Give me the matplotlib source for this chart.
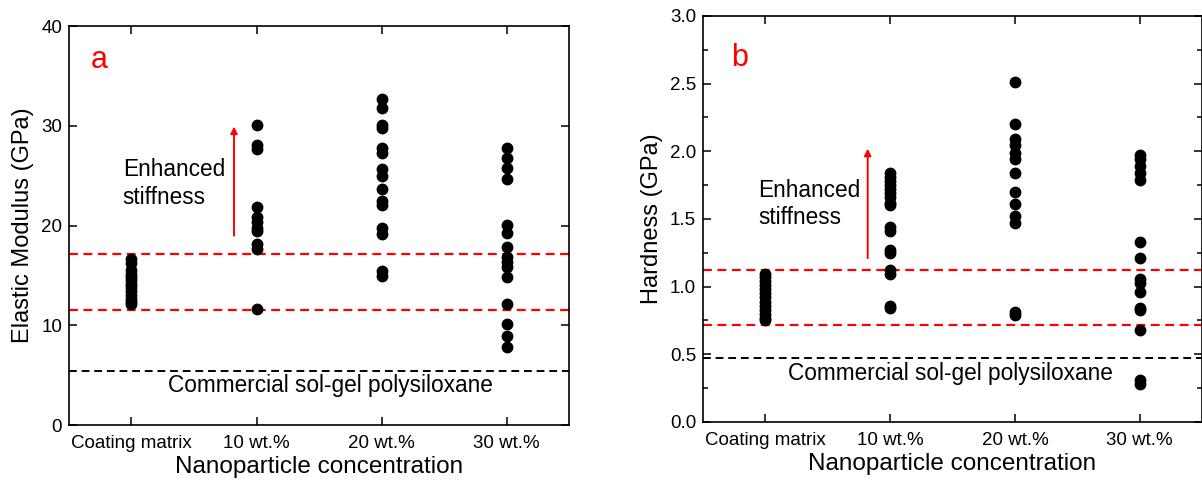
import matplotlib
matplotlib.use("Agg")
import matplotlib.pyplot as plt
from matplotlib.ticker import MultipleLocator, FormatStrFormatter

plt.rcParams['font.family'] = ['Liberation Sans', 'DejaVu Sans']

categories = ["Coating matrix", "10 wt.%", "20 wt.%", "30 wt.%"]

# Panel a: Elastic modulus (GPa)
modulus = [
    [16.6, 16.2, 15.5, 15.1, 14.8, 14.5, 14.1, 13.8, 13.4, 13.0, 12.6, 12.3, 12.1],
    [30.1, 28.1, 27.65, 21.9, 20.9, 20.4, 19.7, 19.4, 18.1, 17.6, 11.65],
    [32.7, 31.8, 30.1, 29.8, 27.8, 27.3, 25.7, 25.0, 23.7, 22.5, 22.1, 19.7, 19.1, 15.4, 14.95],
    [27.8, 26.8, 25.8, 24.7, 20.1, 19.2, 17.8, 16.8, 16.3, 15.8, 14.8, 12.1, 10.1, 8.9, 7.8],
]
modulus_bounds = [17.1, 11.55]
modulus_commercial = 5.4

# Panel b: Hardness (GPa)
hardness = [
    [1.09, 1.07, 1.04, 1.01, 0.98, 0.95, 0.92, 0.89, 0.86, 0.83, 0.80, 0.77, 0.75],
    [1.84, 1.81, 1.78, 1.75, 1.72, 1.69, 1.66, 1.62, 1.60, 1.44, 1.41, 1.27, 1.25, 1.12, 1.09, 0.86, 0.84],
    [2.51, 2.20, 2.09, 2.05, 1.99, 1.94, 1.84, 1.70, 1.61, 1.52, 1.47, 0.81, 0.79],
    [1.97, 1.94, 1.89, 1.84, 1.79, 1.33, 1.21, 1.06, 1.03, 0.96, 0.84, 0.83, 0.68, 0.31, 0.28],
]
hardness_bounds = [1.12, 0.72]
hardness_commercial = 0.476

fig = plt.figure(figsize=(12.02, 4.87), dpi=100)
ax_a = fig.add_axes([0.0574, 0.1273, 0.416, 0.8193])
ax_b = fig.add_axes([0.5849, 0.1335, 0.4151, 0.8337])

def style(ax, ylim, yticks, ylabel, minor=None, fmt=None):
    xs = range(1, len(categories) + 1)
    ax.set_xlim(0.5, 4.5)
    ax.set_ylim(*ylim)
    ax.set_xticks(list(xs))
    ax.set_xticklabels(categories)
    ax.set_yticks(yticks)
    if minor:
        ax.yaxis.set_minor_locator(MultipleLocator(minor))
    if fmt:
        ax.yaxis.set_major_formatter(FormatStrFormatter(fmt))
    ax.tick_params(axis='both', which='both', direction='in', top=True, right=True,
                   labelsize=13.5, width=1.1)
    ax.tick_params(axis='x', which='major', pad=7)
    ax.tick_params(axis='y', which='major', pad=5)
    ax.tick_params(axis='both', which='major', length=6)
    ax.tick_params(axis='y', which='minor', length=3.5)
    for s in ax.spines.values():
        s.set_linewidth(1.2)
    ax.set_xlabel("Nanoparticle concentration", fontsize=17.5, labelpad=3)
    ax.set_ylabel(ylabel, fontsize=17, labelpad=5)

def draw(ax, data, bounds, commercial):
    for i, vals in enumerate(data):
        ax.plot([i + 1] * len(vals), vals, 'o', color='black', ms=7.5, zorder=3)
    for b in bounds:
        ax.axhline(b, color='red', ls=(0, (4, 2.5)), lw=1.6, zorder=2)
    ax.axhline(commercial, color='black', ls=(0, (4, 2.5)), lw=1.4, zorder=2)

# Panel a
draw(ax_a, modulus, modulus_bounds, modulus_commercial)
style(ax_a, (0, 40), [0, 10, 20, 30, 40], "Elastic Modulus (GPa)")
ax_a.annotate("", xy=(1.82, 30.2), xytext=(1.82, 18.7),
              arrowprops=dict(arrowstyle='-|>', color='red', lw=1.4, mutation_scale=10))
ax_a.text(0.93, 24.2, "Enhanced\nstiffness", fontsize=16.3, ha='left', va='center',
          linespacing=1.25)
ax_a.text(2.59, 4.0, "Commercial sol-gel polysiloxane", fontsize=16.3, ha='center', va='center')
ax_a.text(0.74, 36.6, "a", color='red', fontsize=22, ha='center', va='center')

# Panel b
draw(ax_b, hardness, hardness_bounds, hardness_commercial)
style(ax_b, (0, 3.0), [0.0, 0.5, 1.0, 1.5, 2.0, 2.5, 3.0], "Hardness (GPa)", minor=0.25, fmt='%.1f')
ax_b.annotate("", xy=(1.82, 2.04), xytext=(1.82, 1.19),
              arrowprops=dict(arrowstyle='-|>', color='red', lw=1.4, mutation_scale=10))
ax_b.text(0.94, 1.61, "Enhanced\nstiffness", fontsize=16.3, ha='left', va='center',
          linespacing=1.25)
ax_b.text(2.48, 0.36, "Commercial sol-gel polysiloxane", fontsize=16.3, ha='center', va='center')
ax_b.text(0.79, 2.69, "b", color='red', fontsize=22, ha='center', va='center')

fig.savefig("out.png", dpi=100)
